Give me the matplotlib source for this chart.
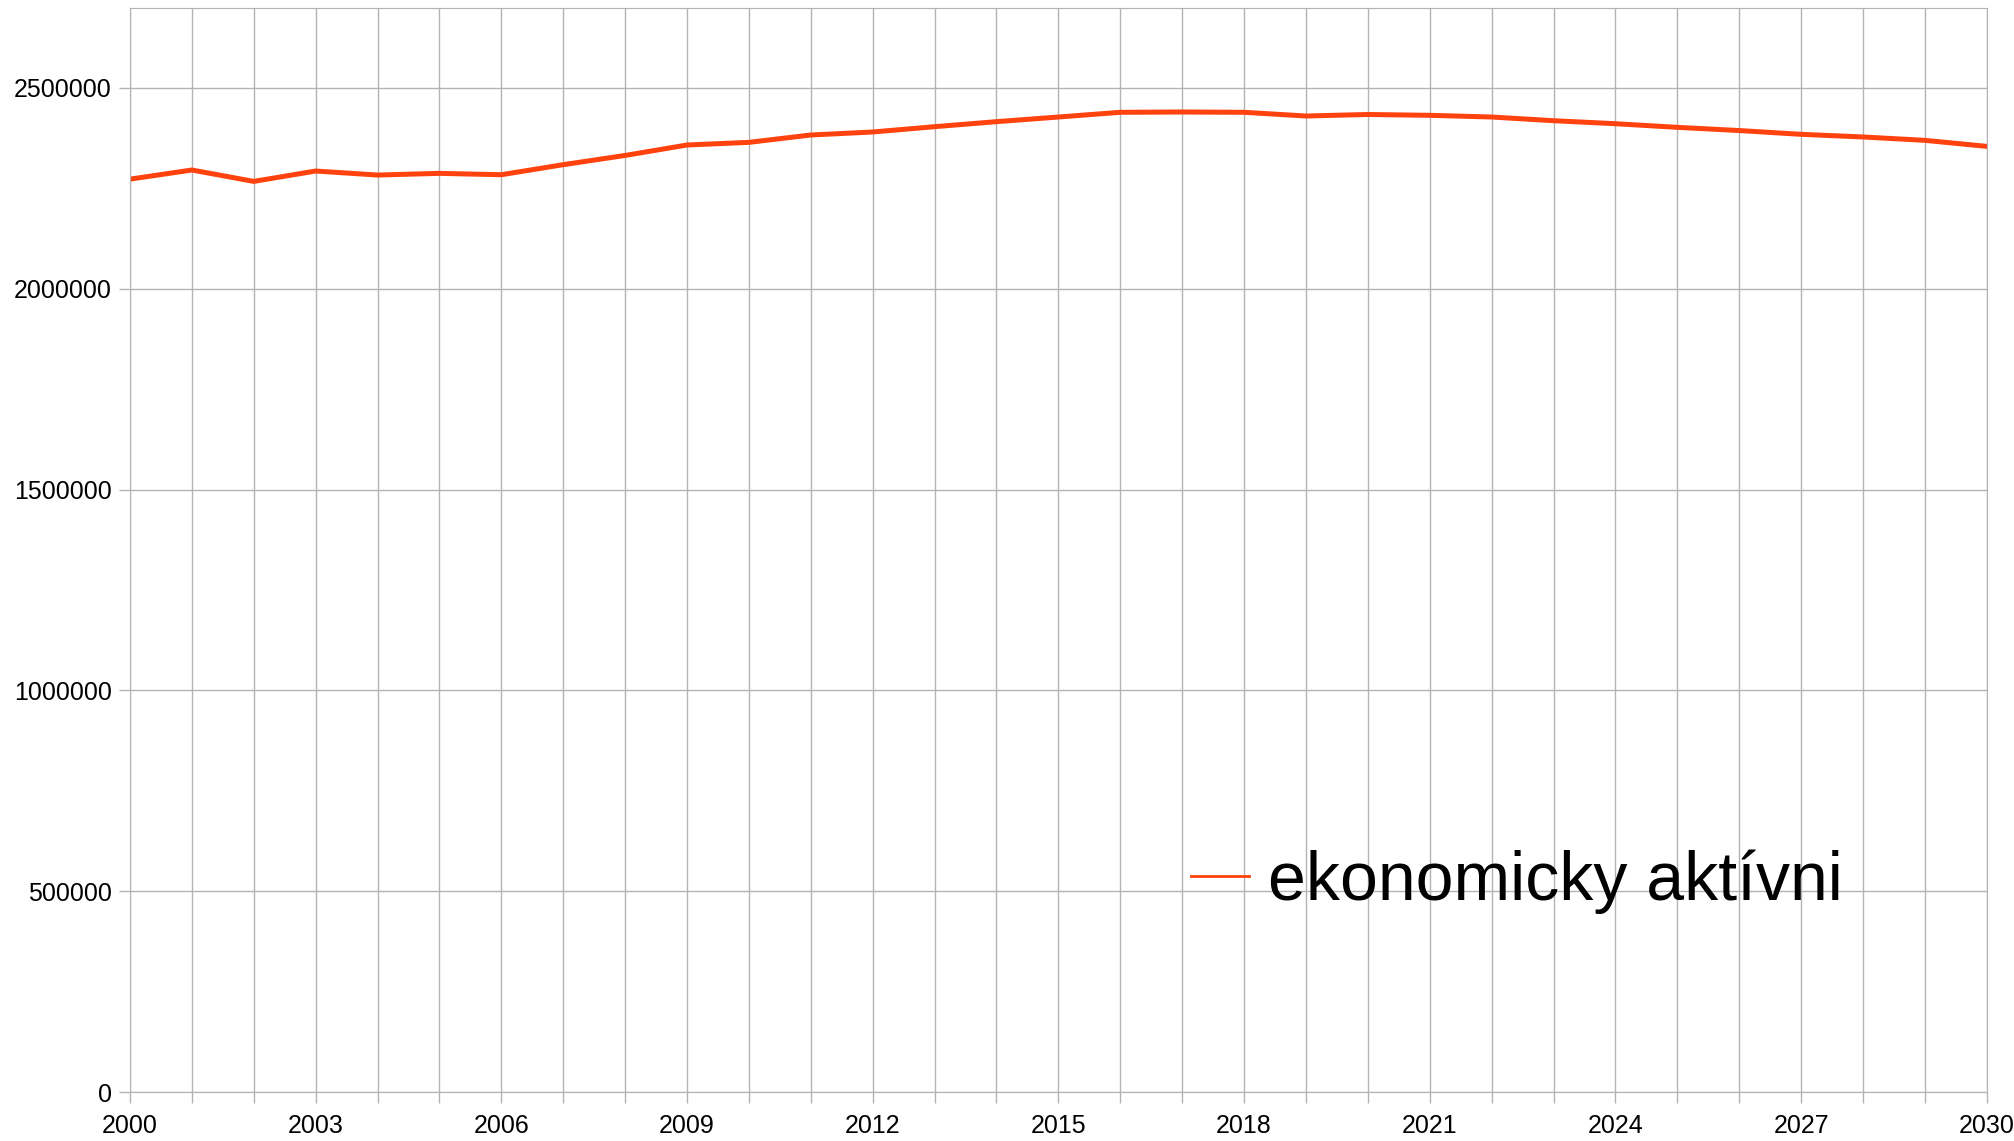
import matplotlib
matplotlib.use('Agg')
import matplotlib.pyplot as plt
from matplotlib.ticker import FixedLocator, MultipleLocator, StrMethodFormatter

plt.rcParams['font.family'] = ['Liberation Sans', 'DejaVu Sans']

years = list(range(2000, 2031))
aktivni = [2273000, 2295700, 2267400, 2293200, 2283200, 2287400, 2284000,
           2309000, 2332000, 2358000, 2364600, 2382900, 2390400, 2403600,
           2416100, 2427700, 2439400, 2440200, 2439400, 2430200, 2434000,
           2431900, 2427700, 2418500, 2411000, 2402000, 2394000, 2384600,
           2378000, 2369600, 2354600]
series_label = 'ekonomicky aktívni'
year_ticks = list(range(2000, 2031, 3))
y_ticks = [0, 500000, 1000000, 1500000, 2000000, 2500000]

grid_c = '#b3b3b3'
line_c = '#ff420e'

fig = plt.figure(figsize=(20.15, 11.41), dpi=100)
ax = fig.add_axes([0.0645, 0.0429, 0.9215, 0.9504])

ax.plot(years, aktivni, color=line_c, lw=3.6, label=series_label)

ax.set_xlim(2000, 2030)
ax.set_ylim(0, 2700000)
ax.xaxis.set_major_locator(FixedLocator(year_ticks))
ax.xaxis.set_minor_locator(MultipleLocator(1))
ax.yaxis.set_major_locator(FixedLocator(y_ticks))
ax.yaxis.set_major_formatter(StrMethodFormatter('{x:.0f}'))
ax.grid(True, which='both', axis='x', color=grid_c, lw=1)
ax.grid(True, which='major', axis='y', color=grid_c, lw=1)
ax.set_axisbelow(True)
for s in ax.spines.values():
    s.set_color(grid_c)
ax.tick_params(axis='both', which='both', colors=grid_c, length=8, width=1,
               labelcolor='black', labelsize=18)
ax.tick_params(axis='x', which='both', pad=8)
ax.tick_params(axis='y', pad=5)

leg = ax.legend(loc='center left', bbox_to_anchor=(0.5913, 0.227),
                bbox_transform=fig.transFigure, frameon=False, fontsize=49,
                handlelength=0.85, handletextpad=0.28, borderpad=0,
                borderaxespad=0)
leg.get_lines()[0].set_linewidth(2)

fig.savefig('out.png', dpi=100)
